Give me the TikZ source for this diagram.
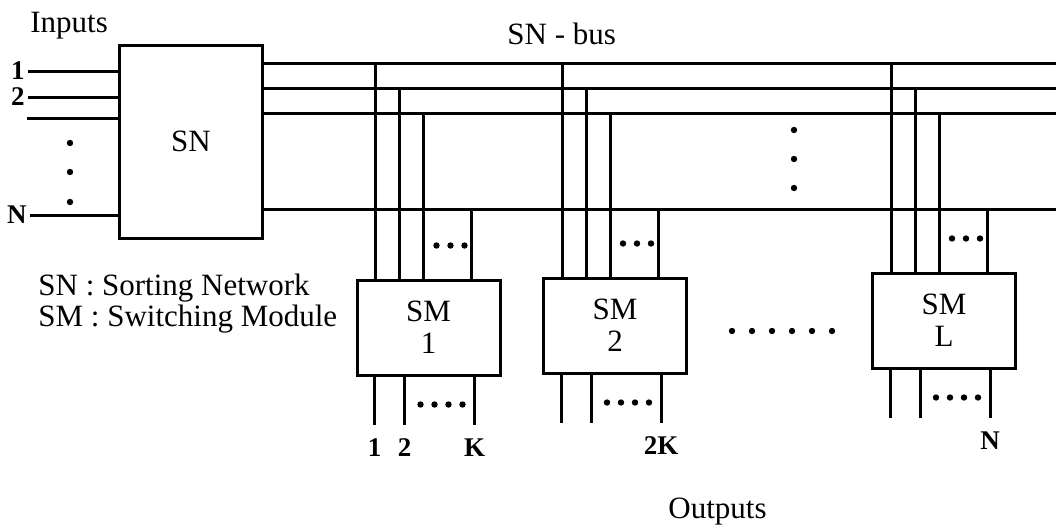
\documentclass[tikz,border=0pt]{standalone}
\usepackage{fontspec}
\setmainfont{Liberation Serif}
\usetikzlibrary{calc,positioning}

\tikzset{
  wire/.style={line width=1.5pt},
  blk/.style={draw,line width=1.5pt,minimum width=71.5pt,minimum height=47.5pt,
    align=center,inner sep=0pt,font=\fontsize{15.5}{16}\selectfont},
  lbl/.style={inner sep=1pt,font=\fontsize{13.5}{13.5}\selectfont\bfseries},
  txt/.style={inner sep=0pt,font=\fontsize{15.5}{12.5}\selectfont},
}

\begin{document}
\begin{tikzpicture}[x=0.5pt,y=-0.5pt]
\useasboundingbox (0,0) rectangle (1056,531);
\node[blk,minimum height=96.5pt] (SN) at (191,141.5) {SN};
\node[blk] (SM1) at (428.5,327.5) {SM\\1};
\node[blk] (SM2) at (615,325.5) {SM\\2};
\node[blk] (SML) at (944,320.5) {SM\\L};

% SN-bus
\coordinate (b1) at (1056,63);
\coordinate (b2) at (1056,88);
\coordinate (b3) at (1056,113);
\coordinate (bN) at (1056,209);
\foreach \b in {b1,b2,b3,bN}
  \draw[wire] (SN.east |- \b) -- (\b);
\foreach \y in {130,159,188}
  \fill (794,\y) circle[radius=1.6pt];

% inputs
\coordinate (i1) at (28,71);
\coordinate (i2) at (28,97);
\coordinate (i3) at (27,118);
\coordinate (iN) at (30,215);
\draw[wire] (i1) node[lbl,left] (in1) {1} -- (i1 -| SN.west);
\draw[wire] (i2) node[lbl,left] (in2) {2} -- (i2 -| SN.west);
\draw[wire] (i3) -- (i3 -| SN.west);
\draw[wire] (iN) node[lbl,left] (inN) {N} -- (iN -| SN.west);
\foreach \y in {143,172,202}
  \fill (70,\y) circle[radius=1.6pt];

% taps from the bus into the modules
\foreach \m in {SM1,SM2,SML}{
  \foreach \dx/\b in {20/b1,44/b2,68/b3,116/bN}{
    \coordinate (t) at ($(\m.north west)+(\dx,0)$);
    \draw[wire] (t) -- (t |- \b);
  }
  \foreach \dx in {81,95,109}
    \fill ($(\m.north west)+(\dx,-33)$) circle[radius=1.6pt];
  \foreach \dx in {19,49,119}
    \draw[wire] ($(\m.south west)+(\dx,0)$) -- ++(0,48) coordinate (\m-o\dx);
  \foreach \dx in {65,79,93,107}
    \fill ($(\m.south west)+(\dx,28)$) circle[radius=1.6pt];
}

% output numbers
\node[lbl,below=6pt of SM1-o19] (o1) {1};
\node[lbl,below=6pt of SM1-o49] (o2) {2};
\node[lbl,below=6pt of SM1-o119] (oK) {K};
\node[lbl,below=6pt of SM2-o119] (o2K) {2K};
\node[lbl,below=6pt of SML-o119] (oN) {N};
\foreach \x in {732,752,...,832}
  \fill (\x,331) circle[radius=1.6pt];

% texts
\node[txt,anchor=base west] (inputs) at (30,32) {Inputs};
\node[txt,anchor=base west] (bus) at (507,44) {SN - bus};
\node[txt,anchor=base west] (outputs) at (668,518) {Outputs};
\node[txt,anchor=base west,align=left] (legend) at (38,326)
  {SN : Sorting Network\\SM : Switching Module};
\end{tikzpicture}
\end{document}
